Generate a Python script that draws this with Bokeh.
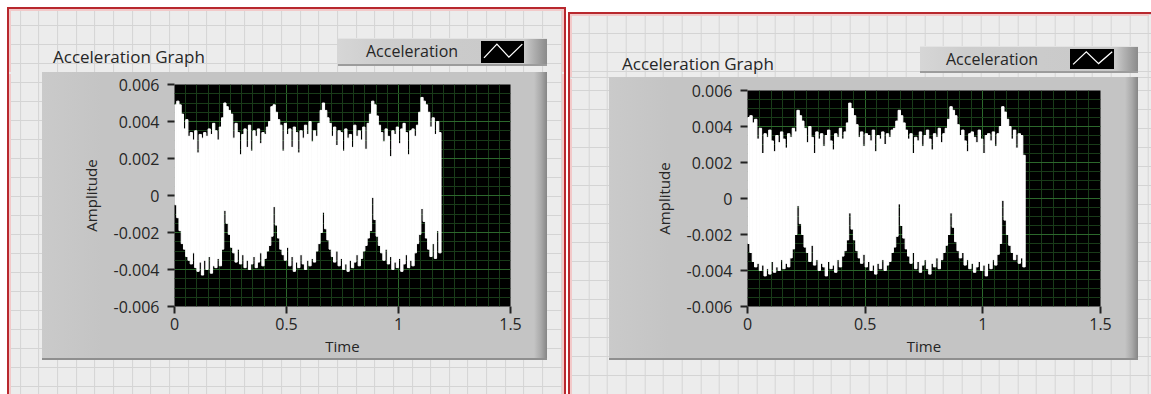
from bokeh.plotting import figure
from bokeh.models import (Div, Range1d, SingleIntervalTicker, CustomJSTickFormatter,
                          ColumnDataSource)
from bokeh.layouts import row, column
from bokeh.embed import file_html
from bokeh.resources import INLINE

# ---------------- data (amplitude values in units of 1e-3) ----------------
SCALE = 1e-3
DT = 0.01
X_RANGE = (0.0, 1.5)
Y_RANGE = (-0.006, 0.006)
X_TICK_STEP = 0.5
Y_TICK_STEP = 0.002
TITLE = "Acceleration Graph"
LEGEND = "Acceleration"
X_LABEL = "Time"
Y_LABEL = "Amplitude"

left_upper = [
    4.9, 5.1, 4.9, 4.4, 3.6, 4.1, 3.2, 3.4, 3.0, 3.5, 2.3, 3.3, 3.1, 3.4, 3.2, 3.6, 3.3, 3.9, 3.5, 3.0, 3.7, 4.2,
    5.0, 4.8, 4.6, 4.4, 3.1, 3.9, 3.4, 2.2, 3.3, 3.6, 2.6, 3.8, 2.4, 3.5, 3.2, 3.6, 2.8, 3.4, 3.3, 3.7, 4.0, 4.8,
    4.9, 4.5, 4.1, 3.8, 2.4, 3.9, 3.3, 3.6, 2.6, 3.7, 3.4, 2.3, 3.5, 3.1, 3.8, 3.3, 4.0, 2.9, 3.5, 3.2, 3.9, 4.6,
    5.0, 4.6, 4.2, 3.9, 3.2, 3.7, 2.7, 3.5, 3.4, 2.4, 3.6, 3.1, 3.3, 2.6, 3.8, 3.2, 3.5, 3.0, 3.7, 2.5, 3.9, 4.4,
    5.1, 4.9, 4.3, 3.8, 3.4, 2.9, 3.6, 3.2, 2.1, 3.5, 3.3, 3.7, 2.8, 3.6, 3.9, 3.4, 2.2, 3.5, 3.6, 3.2, 3.8, 4.5,
    5.3, 5.1, 4.9, 4.5, 3.7, 4.2, 3.3, 4.0, 3.4]
left_lower = [
    -0.5, -1.2, -1.9, -2.6, -2.9, -3.3, -3.5, -3.7, -3.1, -3.9, -4.1, -3.6, -4.3, -3.5, -4.0, -3.3, -4.2, -3.8, -3.9, -3.4, -3.8, -2.9,
    -0.8, -1.5, -2.1, -2.8, -3.1, -3.6, -2.9, -3.7, -3.2, -3.9, -3.5, -4.0, -3.7, -3.3, -3.9, -3.6, -3.1, -3.8, -3.4, -3.0, -2.7, -2.2,
    -0.6, -1.6, -2.3, -2.9, -3.2, -3.5, -2.8, -3.8, -3.3, -4.1, -3.6, -3.9, -3.2, -3.7, -4.0, -3.5, -3.8, -3.4, -3.6, -3.0, -2.6, -2.0,
    -0.9, -1.8, -2.4, -2.9, -3.3, -3.6, -3.0, -3.8, -3.4, -4.0, -3.7, -4.1, -3.5, -3.9, -3.6, -3.2, -3.8, -3.4, -3.0, -2.7, -2.3, -1.9,
    -0.1, -1.3, -2.2, -2.7, -3.1, -3.5, -2.9, -3.7, -3.3, -4.0, -3.6, -3.9, -3.4, -4.1, -3.7, -3.2, -3.9, -3.5, -3.8, -3.1, -2.6, -2.1,
    -0.7, -1.4, -2.3, -2.9, -3.3, -2.6, -3.4, -1.9, -3.1]

right_upper = [
    4.5, 4.6, 4.2, 4.4, 3.3, 3.9, 2.5, 3.6, 3.4, 3.8, 3.2, 2.6, 3.5, 3.1, 3.7, 3.3, 2.8, 3.6, 3.4, 3.9, 3.7,
    4.9, 4.6, 4.3, 3.9, 3.1, 4.0, 3.4, 2.5, 3.7, 3.3, 3.6, 2.9, 3.5, 3.8, 3.2, 2.7, 3.6, 3.4, 3.9, 3.3, 3.7, 4.2,
    5.3, 5.0, 4.6, 4.1, 3.4, 3.7, 2.9, 3.6, 3.5, 3.2, 3.8, 2.6, 3.5, 3.3, 3.7, 3.0, 3.6, 3.4, 3.8, 3.9, 4.3,
    4.9, 4.6, 4.2, 3.8, 3.3, 3.6, 2.5, 3.4, 3.2, 3.7, 2.9, 3.5, 3.8, 3.3, 2.7, 3.6, 3.4, 3.9, 3.1, 3.6, 3.9, 4.4,
    5.1, 4.9, 4.6, 4.1, 3.5, 3.8, 3.2, 2.6, 3.6, 3.7, 3.4, 3.1, 3.8, 3.3, 2.5, 3.5, 3.6, 3.2, 3.7, 2.9, 3.6, 4.0,
    5.1, 4.8, 4.4, 4.0, 3.3, 3.8, 2.8, 3.6, 3.5, 2.4]
right_lower = [
    -2.5, -3.0, -3.5, -3.8, -3.6, -4.0, -3.7, -4.3, -3.9, -4.2, -3.5, -4.1, -3.8, -4.0, -3.4, -3.9, -3.6, -3.8, -3.3, -2.8, -2.0,
    -0.4, -1.4, -2.0, -2.7, -3.0, -3.5, -2.6, -3.7, -3.4, -4.0, -3.6, -3.8, -4.3, -3.5, -3.9, -3.7, -4.1, -3.4, -3.8, -3.2, -2.9, -2.3,
    -0.8, -1.7, -2.3, -2.9, -3.3, -3.6, -3.1, -3.8, -3.5, -4.0, -3.7, -4.2, -3.6, -3.9, -3.4, -4.0, -3.7, -3.5, -3.0, -2.7, -2.1,
    -0.3, -1.5, -2.2, -2.8, -3.2, -3.6, -3.0, -3.9, -3.5, -4.1, -3.7, -3.4, -3.9, -4.2, -3.6, -3.8, -3.3, -3.9, -3.4, -3.0, -2.6, -2.0,
    -0.8, -1.6, -2.4, -2.9, -3.3, -3.0, -3.7, -3.4, -3.9, -3.6, -4.1, -3.8, -3.5, -4.0, -3.7, -4.3, -3.6, -3.9, -3.4, -3.7, -3.1, -2.5,
    -0.1, -1.2, -2.0, -2.6, -3.0, -3.4, -3.1, -3.6, -3.3, -3.8]

# ---------------- style ----------------
FONT = "Open Sans"
TXT = "#262626"
BG = "#ececec"
GRIDC = "#d4d4d4"
FRAME = "#c4c4c4"
RED = "#b8282e"
PINK = "#f2c9c9"
MAJOR_G = "#2c682c"
MINOR_G = "#193b19"
PAGE_H = 394
GSX, GSY = 18.66, 19.0
ASC = 0.888  # baseline position (em) inside a line box of line-height 1 for Open Sans


def solid(color, x, y, w, h):
    return f"linear-gradient({color},{color}) {x}px {y}px / {w}px {h}px no-repeat"


def css_background(layers, gx0, gy0):
    grid_v = (f"repeating-linear-gradient(90deg, {GRIDC} 0px, {GRIDC} 1px, transparent 1px, "
              f"transparent {GSX}px) {gx0 % GSX:.2f}px 0px / 100% 100% repeat")
    grid_h = (f"repeating-linear-gradient(180deg, {GRIDC} 0px, {GRIDC} 1px, transparent 1px, "
              f"transparent {GSY}px) 0px {gy0 % GSY:.2f}px / 100% 100% repeat")
    return {"background": ", ".join(layers + [grid_v, grid_h, BG])}


def border_layers(W, H, bl, bt, br):
    L = []
    top = 0 if bt is None else bt
    if bt is not None:
        L.append(solid("white", 0, 0, W, bt))
        L.append(solid(RED, bl, bt, (br or W) - bl, 2))
        L.append(solid(PINK, bl + 2, bt + 2, (br or W) - bl - 4, 2))
    if bl > 0:
        L.append(solid("white", 0, 0, bl, H))
    L.append(solid(RED, bl, top, 2, H))
    L.append(solid(PINK, bl + 2, top + 2, 2, H))
    if br is not None:
        L.append(solid("white", br + 2, 0, W - br, H))
        L.append(solid(RED, br, top, 2, H))
        L.append(solid(PINK, br - 2, top + 2, 2, H))
    return L


def text_span(x, baseline, text, size):
    top = baseline - ASC * size
    return (f'<span style="position:absolute;left:{x}px;top:{top:.1f}px;'
            f"font-family:'{FONT}';font-size:{size}px;line-height:{size}px;"
            f'color:{TXT};white-space:nowrap;">{text}</span>')


def make_header(W, Hh, legend_box, swatch_box, title_pos, legend_pos, bl, bt, br, gx0, gy0):
    ll, lt, lr, lb = legend_box
    lw, lh = lr - ll, lb - lt
    sl, st, sr, sb = swatch_box
    sw, sh = sr - sl, sb - st
    zig = [(0.07, 0.77), (0.37, 0.14), (0.65, 0.73), (0.96, 0.14)]
    pts = " ".join(f"{a * sw:.1f},{b * sh:.1f}" for a, b in zig)
    html = (
        f'<div style="position:relative;width:{W}px;height:{Hh}px;overflow:hidden;">'
        f'<div style="position:absolute;left:{ll}px;top:{lt}px;width:{lw}px;height:{lh}px;'
        f'box-sizing:border-box;border-top:1px solid #e3e3e3;border-bottom:2px solid #9c9c9c;'
        f'background:linear-gradient(90deg,#d6d6d6 0px,#cdcdcd 45px,#c9c9c9 {lw - 22}px,'
        f'#8a8a8a {lw}px);"></div>'
        f'<div style="position:absolute;left:{sl}px;top:{st}px;width:{sw}px;height:{sh}px;'
        f'background:#000;"><svg width="{sw}" height="{sh}" style="position:absolute;left:0;top:0;">'
        f'<polyline points="{pts}" fill="none" stroke="#ffffff" stroke-width="1.3"/></svg></div>'
        + text_span(title_pos[0], title_pos[1], TITLE, 17)
        + text_span(legend_pos[0], legend_pos[1], LEGEND, 16)
        + '</div>')
    return Div(text=html, width=W, height=Hh, margin=0,
               styles=css_background(border_layers(W, Hh, bl, bt, br), gx0, gy0))


def make_main(upper, lower, W, Hm, plot_box, frame_box, bl, br, gx0, gy0):
    pl, pt, pr, pb = plot_box
    fl, ft, fr, fb = frame_box
    fw, fh = fr - fl, fb - ft
    layers = border_layers(W, Hm, bl, None, br)
    layers += [
        solid("#8f8f8f", fl, fb - 2, fw, 2),
        f"linear-gradient(90deg, #cacaca 0px, {FRAME} 60px, {FRAME} {fw - 13}px, #a9a9a9 {fw - 6}px, "
        f"#858585 {fw}px) {fl}px {ft}px / {fw}px {fh}px no-repeat",
    ]
    p = figure(width=W, height=Hm, output_backend="svg", toolbar_location=None,
               x_range=Range1d(*X_RANGE), y_range=Range1d(*Y_RANGE),
               min_border_left=pl, min_border_right=W - pr,
               min_border_top=pt, min_border_bottom=Hm - pb,
               background_fill_color="black", border_fill_alpha=0.0,
               outline_line_color=None, margin=0, styles=css_background(layers, gx0, gy0))

    t = [round(i * DT, 4) for i in range(len(upper))]
    src = ColumnDataSource(dict(
        left=t, right=[v + DT for v in t],
        top=[v * SCALE for v in upper], bottom=[v * SCALE for v in lower]))
    p.quad(left="left", right="right", top="top", bottom="bottom", source=src,
           fill_color="white", line_color="white", line_width=1)

    xt = SingleIntervalTicker(interval=X_TICK_STEP, num_minor_ticks=10)
    yt = SingleIntervalTicker(interval=Y_TICK_STEP, num_minor_ticks=4)
    p.xaxis.ticker = xt
    p.yaxis.ticker = yt
    p.xgrid.ticker = xt
    p.ygrid.ticker = yt
    for g in (p.xgrid[0], p.ygrid[0]):
        g.grid_line_color = MAJOR_G
        g.minor_grid_line_color = MINOR_G
    p.xaxis.formatter = CustomJSTickFormatter(code="return String(Math.round(tick*10)/10);")
    p.yaxis.formatter = CustomJSTickFormatter(
        code="return Math.abs(tick) < 1e-9 ? '0' : tick.toFixed(3);")
    for ax in (p.xaxis[0], p.yaxis[0]):
        ax.axis_line_color = None
        ax.major_tick_line_color = "#222222"
        ax.major_tick_line_width = 2
        ax.major_tick_in = 0
        ax.major_tick_out = 7
        ax.minor_tick_line_color = None
        ax.major_label_text_font = FONT
        ax.major_label_text_font_size = "16px"
        ax.major_label_text_color = TXT
        ax.axis_label_text_font = FONT
        ax.axis_label_text_font_size = "15px"
        ax.axis_label_text_font_style = "normal"
        ax.axis_label_text_color = TXT
    p.xaxis.axis_label = X_LABEL
    p.yaxis.axis_label = Y_LABEL
    p.xaxis.major_label_standoff = 4
    p.yaxis.major_label_standoff = 8
    p.xaxis.axis_label_standoff = 3
    p.yaxis.axis_label_standoff = 10
    return p


# ---- left pane (page x 0..567) ----
LH = 72
left_hdr = make_header(567, LH, legend_box=(338, 38, 547, 66), swatch_box=(481, 41, 524, 63),
                       title_pos=(53, 63), legend_pos=(366, 57), bl=7, bt=7, br=564,
                       gx0=1.1, gy0=6)
left_main = make_main(left_upper, left_lower, 567, PAGE_H - LH,
                      plot_box=(174, 84 - LH, 510, 306 - LH), frame_box=(42, 0, 547, 360 - LH),
                      bl=7, br=564, gx0=1.1, gy0=6 - LH)

# ---- right pane (page x 567..1151) ----
RH = 77
right_hdr = make_header(584, RH, legend_box=(353, 46, 571, 73), swatch_box=(503, 49, 547, 69),
                        title_pos=(55, 70), legend_pos=(379, 65), bl=1, bt=12, br=None,
                        gx0=2.7, gy0=14)
right_main = make_main(right_upper, right_lower, 584, PAGE_H - RH,
                       plot_box=(180, 90 - RH, 533, 306 - RH), frame_box=(42, 0, 571, 360 - RH),
                       bl=1, br=None, gx0=2.7, gy0=14 - RH)

layout = row(column(left_hdr, left_main, spacing=0, margin=0),
             column(right_hdr, right_main, spacing=0, margin=0),
             spacing=0, margin=0)
open("out.html", "w").write(file_html(layout, INLINE))
